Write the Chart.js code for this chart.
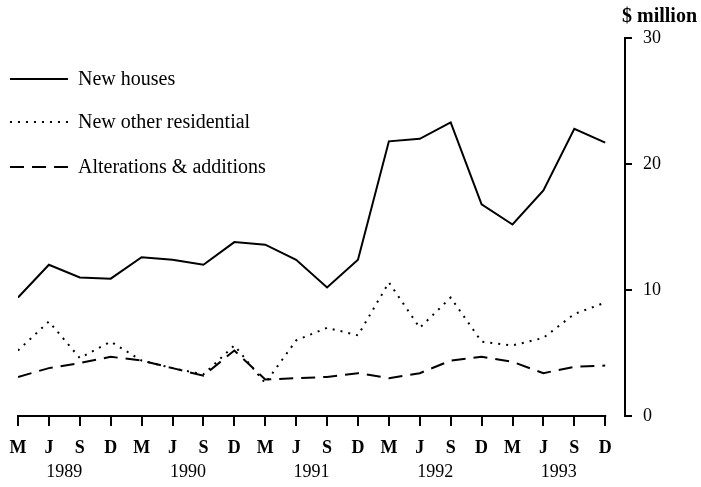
<!DOCTYPE html>
<html>
<head>
<meta charset="utf-8">
<script src="https://cdn.jsdelivr.net/npm/chart.js@4"></script>
<style>
  html, body { margin: 0; padding: 0; background: #fff; }
</style>
</head>
<body>
<canvas id="chart" width="701" height="487"></canvas>
<script>
  const quarterLabels = ['M', 'J', 'S', 'D', 'M', 'J', 'S', 'D', 'M', 'J', 'S', 'D', 'M', 'J', 'S', 'D', 'M', 'J', 'S', 'D'];
  const yearLabels = ['1989', '1990', '1991', '1992', '1993'];
  const newHouses = [9.4, 12.0, 11.0, 10.9, 12.6, 12.4, 12.0, 13.8, 13.6, 12.4, 10.2, 12.4, 21.8, 22.0, 23.3, 16.8, 15.2, 17.9, 22.8, 21.7];
  const newOtherResidential = [5.2, 7.5, 4.6, 5.9, 4.4, 3.8, 3.3, 5.6, 2.6, 6.0, 7.0, 6.4, 10.6, 7.0, 9.4, 5.9, 5.6, 6.2, 8.1, 9.0];
  const alterations = [3.1, 3.8, 4.2, 4.7, 4.4, 3.8, 3.2, 5.2, 2.9, 3.0, 3.1, 3.4, 3.0, 3.4, 4.4, 4.7, 4.3, 3.4, 3.9, 4.0];
  const yTickValues = [0, 10, 20, 30];

  const serif = '"Liberation Serif", "DejaVu Serif", serif';
  Chart.defaults.font.family = serif;
  Chart.defaults.color = '#000';

  function toPoints(values) {
    return values.map((v, i) => ({ x: i, y: v }));
  }

  // legend drawn inside the plot, top-left, one row per series
  const legendRows = [79, 122, 167];
  const insideLegend = {
    id: 'insideLegend',
    afterDraw(chart) {
      const ctx = chart.ctx;
      ctx.save();
      chart.data.datasets.forEach((ds, i) => {
        const y = legendRows[i];
        ctx.strokeStyle = '#000';
        ctx.lineWidth = ds.borderWidth;
        ctx.setLineDash(ds.borderDash || []);
        ctx.beginPath();
        ctx.moveTo(10, y);
        ctx.lineTo(68, y);
        ctx.stroke();
        ctx.setLineDash([]);
        ctx.fillStyle = '#000';
        ctx.font = '20px ' + serif;
        ctx.textAlign = 'left';
        ctx.textBaseline = 'middle';
        ctx.fillText(ds.label, 78, y + 1);
      });
      ctx.font = 'bold 20px ' + serif;
      ctx.textAlign = 'left';
      ctx.textBaseline = 'middle';
      ctx.fillText('$ million', 622, 17);
      ctx.restore();
    }
  };

  // bottom axis line only runs under the data, not up to the value axis
  const xAxisLine = {
    id: 'xAxisLine',
    afterDraw(chart) {
      const ctx = chart.ctx;
      const xs = chart.scales.x;
      const y = chart.chartArea.bottom;
      ctx.save();
      ctx.strokeStyle = '#000';
      ctx.lineWidth = 2;
      ctx.beginPath();
      ctx.moveTo(xs.getPixelForValue(0) - 1, y);
      ctx.lineTo(xs.getPixelForValue(quarterLabels.length - 1) + 1, y);
      ctx.stroke();
      ctx.restore();
    }
  };

  const xMax = 19.64;

  new Chart(document.getElementById('chart'), {
    type: 'line',
    data: {
      datasets: [
        {
          label: 'New houses',
          data: toPoints(newHouses),
          borderColor: '#000',
          borderWidth: 2,
          pointRadius: 0,
          tension: 0
        },
        {
          label: 'New other residential',
          data: toPoints(newOtherResidential),
          borderColor: '#000',
          borderWidth: 2,
          borderDash: [2, 6],
          pointRadius: 0,
          tension: 0
        },
        {
          label: 'Alterations & additions',
          data: toPoints(alterations),
          borderColor: '#000',
          borderWidth: 2,
          borderDash: [14, 8],
          pointRadius: 0,
          tension: 0
        }
      ]
    },
    options: {
      responsive: false,
      animation: false,
      layout: { padding: { top: 38, left: 18, right: 0, bottom: 0 } },
      plugins: {
        legend: { display: false },
        tooltip: { enabled: false }
      },
      scales: {
        x: {
          type: 'linear',
          position: 'bottom',
          min: 0,
          max: xMax,
          weight: 0,
          afterBuildTicks: (scale) => {
            scale.ticks = quarterLabels.map((_, i) => ({ value: i }));
          },
          afterFit: (scale) => { scale.height = 45; },
          ticks: {
            autoSkip: false,
            maxRotation: 0,
            padding: 8,
            font: { size: 18, weight: 'bold', lineHeight: 1.6 },
            callback: (v) => quarterLabels[v]
          },
          grid: { drawOnChartArea: false, drawTicks: true, tickLength: 10, color: '#000', lineWidth: 2 },
          border: { display: false }
        },
        x2: {
          type: 'linear',
          position: 'bottom',
          min: 0,
          max: xMax,
          weight: 1,
          afterBuildTicks: (scale) => {
            scale.ticks = yearLabels.map((_, i) => ({ value: i * 4 + 1.5 }));
          },
          afterFit: (scale) => { scale.height = 26; },
          ticks: {
            autoSkip: false,
            maxRotation: 0,
            padding: 0,
            font: { size: 18 },
            callback: (v) => yearLabels[(v - 1.5) / 4]
          },
          grid: { display: false, drawTicks: false },
          border: { display: false }
        },
        y: {
          position: 'right',
          min: 0,
          max: 30,
          afterBuildTicks: (scale) => {
            scale.ticks = yTickValues.map(v => ({ value: v }));
          },
          afterFit: (scale) => { scale.width = 76; },
          ticks: { padding: 11, font: { size: 18 } },
          grid: { drawOnChartArea: false, drawTicks: true, tickLength: 7, color: '#000', lineWidth: 2 },
          border: { display: true, color: '#000', width: 2 }
        }
      }
    },
    plugins: [insideLegend, xAxisLine]
  });
</script>
</body>
</html>
